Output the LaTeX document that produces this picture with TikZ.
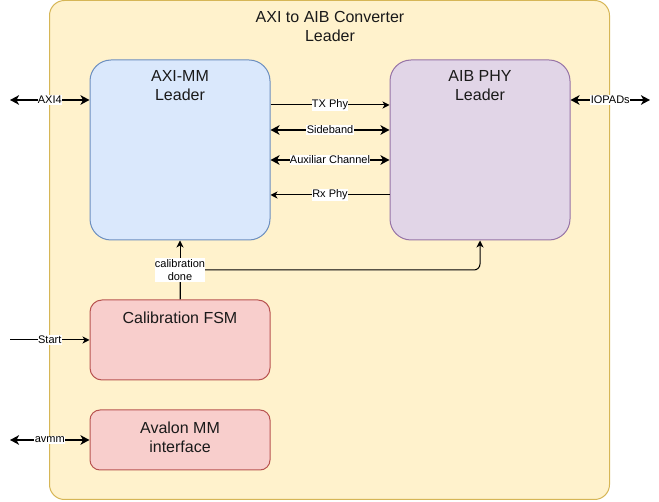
\documentclass[tikz,border=0pt]{standalone}
\usepackage{fontspec}
\setmainfont{Liberation Sans}
\usetikzlibrary{arrows.meta}
\definecolor{contfill}{HTML}{FFF2CC}
\definecolor{contdraw}{HTML}{D6B656}
\definecolor{bluefill}{HTML}{DAE8FC}
\definecolor{bluedraw}{HTML}{6C8EBF}
\definecolor{purpfill}{HTML}{E1D5E7}
\definecolor{purpdraw}{HTML}{9673A6}
\definecolor{redfill}{HTML}{F8CECC}
\definecolor{reddraw}{HTML}{B85450}
\definecolor{txt}{HTML}{1A1A1A}
\tikzset{
  box/.style={draw, line width=1pt, inner sep=0pt, minimum width=180pt},
  boxtext/.style={anchor=north, inner sep=0pt, align=center, text=txt,
    font=\fontsize{16pt}{19pt}\selectfont},
  lbl/.style={fill=white, inner xsep=0.3pt, inner ysep=1pt, text=black,
    font=\fontsize{11pt}{13.5pt}\selectfont, align=center},
  thinarrow/.style={line width=1pt, -{Stealth[length=7pt,width=7pt,inset=2pt]}},
  thickboth/.style={line width=2pt, {Stealth[length=9pt,width=9.5pt,inset=2.5pt]}-{Stealth[length=9pt,width=9.5pt,inset=2.5pt]}},
}
\begin{document}
\begin{tikzpicture}[x=1pt,y=-1pt]
\useasboundingbox (0,0) rectangle (659,502);
% container
\draw[fill=contfill, draw=contdraw, line width=1pt, rounded corners=15pt]
  (49.5,0.5) rectangle (609.5,499.5);
\node[boxtext] (title) at (330,11.3) {AXI to AIB Converter\\Leader};
% blocks
\node[box, fill=bluefill, draw=bluedraw, rounded corners=21pt, minimum height=180pt] (axi) at (180,150) {};
\node[boxtext] (axit) at (180,70.3) {AXI-MM\\Leader};
\node[box, fill=purpfill, draw=purpdraw, rounded corners=21pt, minimum height=180pt] (aib) at (480,150) {};
\node[boxtext] (aibt) at (480,70.3) {AIB PHY\\Leader};
\node[box, fill=redfill, draw=reddraw, rounded corners=12pt, minimum height=80pt] (fsm) at (180,340) {};
\node[boxtext] (fsmt) at (180,311.3) {Calibration FSM};
\node[box, fill=redfill, draw=reddraw, rounded corners=10pt, minimum height=60pt] (avl) at (180,440) {};
\node[boxtext] (avlt) at (180,421.3) {Avalon MM\\interface};
% free ends
\coordinate (axiin) at (10,100);
\coordinate (ioout) at (650,100);
\coordinate (startin) at (10,340);
\coordinate (avin) at (10,440);
% external connectors
\draw[thickboth] (axiin) -- node[lbl]{AXI4} (axi.west |- axiin);
\draw[thickboth] (aib.east |- ioout) -- node[lbl]{IOPADs} (ioout);
\draw[thinarrow] (startin) -- node[lbl]{Start} (fsm.west |- startin);
\draw[thickboth] (avin) -- node[lbl]{avmm} (avl.west |- avin);
% internal connectors
\draw[thinarrow] (axi.east |- 0,105) -- node[lbl]{TX Phy} (aib.west |- 0,105);
\draw[thickboth] (axi.east |- 0,130) -- node[lbl]{Sideband} (aib.west |- 0,130);
\draw[thickboth] (axi.east |- 0,160) -- node[lbl]{Auxiliar Channel} (aib.west |- 0,160);
\draw[thinarrow] (aib.west |- 0,195) -- node[lbl]{Rx Phy} (axi.east |- 0,195);
% calibration done
\draw[thinarrow, rounded corners=6pt] (fsm.north) -- (180,270) -| (aib.south);
\draw[thinarrow] (fsm.north) -- node[lbl]{calibration\\done} (axi.south);
\end{tikzpicture}
\end{document}
